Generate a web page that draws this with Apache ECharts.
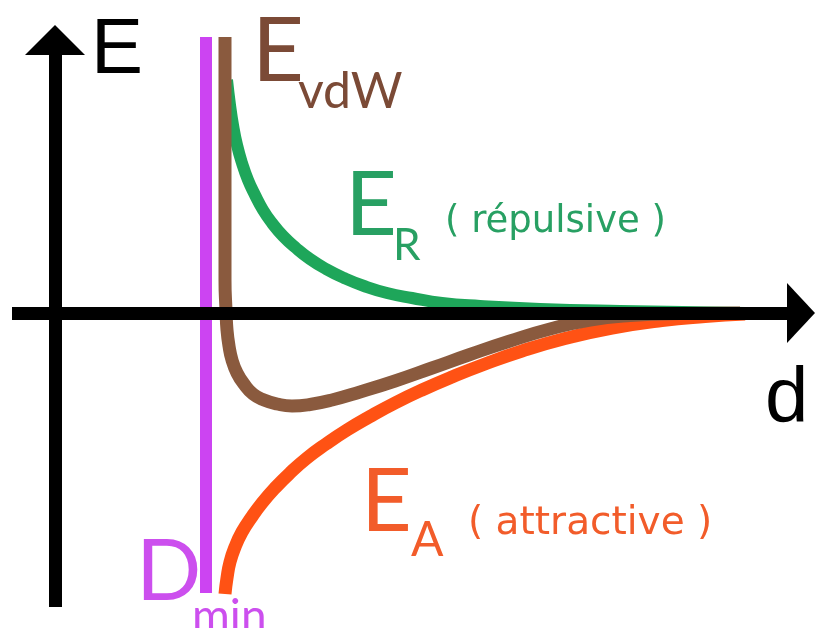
<!DOCTYPE html>
<html>
<head>
<meta charset="utf-8">
<title>E vdW</title>
<script src="https://cdn.jsdelivr.net/npm/echarts@6/dist/echarts.min.js"></script>
<style>
  html, body { margin: 0; padding: 0; background: #fff; }
  #chart { width: 816px; height: 628px; }
</style>
</head>
<body>
<div id="chart"></div>
<script>
// points: [d, E]
var dMin = [[1.51, 2.76], [1.51, -2.80]];

var eRepulsive = [
  [1.72, 2.33], [1.75, 2.08], [1.78, 1.88], [1.82, 1.68], [1.87, 1.50],
  [1.93, 1.33], [2.00, 1.18], [2.08, 1.03], [2.17, 0.90], [2.28, 0.77],
  [2.41, 0.65], [2.55, 0.54], [2.71, 0.44], [2.89, 0.35], [3.09, 0.27],
  [3.32, 0.20], [3.57, 0.15], [3.87, 0.10], [4.25, 0.07], [4.85, 0.04],
  [5.65, 0.02], [6.90, 0]
];

var eAttractive = [
  [1.70, -2.81], [1.72, -2.65], [1.75, -2.49], [1.80, -2.34], [1.87, -2.19],
  [1.96, -2.05], [2.07, -1.90], [2.20, -1.75], [2.35, -1.60], [2.52, -1.45],
  [2.71, -1.31], [2.92, -1.17], [3.15, -1.035], [3.40, -0.90], [3.67, -0.77],
  [3.97, -0.64], [4.30, -0.51], [4.67, -0.38], [5.10, -0.255], [5.57, -0.15],
  [6.07, -0.075], [6.50, -0.035], [6.90, -0.01]
];

var eVdW = [
  [1.70, 2.76], [1.70, 1.13], [1.70, 0.33], [1.71, 0.03], [1.72, -0.17],
  [1.74, -0.33], [1.77, -0.47], [1.82, -0.60], [1.89, -0.71], [1.98, -0.81],
  [2.09, -0.87], [2.22, -0.91], [2.37, -0.93], [2.55, -0.915], [2.77, -0.87],
  [3.05, -0.79], [3.40, -0.68], [3.77, -0.55], [4.15, -0.415], [4.55, -0.28],
  [4.95, -0.16], [5.35, -0.07], [5.75, -0.025], [6.25, -0.005], [6.85, 0]
];

var chart = echarts.init(document.getElementById("chart"));

function axisOpt(min, max, size) {
  return {
    type: "value",
    min: min,
    max: max,
    z: 10,
    axisLine: {
      onZero: true,
      symbol: ["none", "triangle"],
      symbolSize: size,
      lineStyle: { color: "#000", width: 13, cap: "butt" }
    },
    axisTick: { show: false },
    axisLabel: { show: false },
    splitLine: { show: false }
  };
}

function curve(name, data, color, width) {
  return {
    name: name,
    type: "line",
    data: data,
    smooth: 0.5,
    symbol: "none",
    clip: false,
    silent: true,
    lineStyle: { color: color, width: width, cap: "butt", join: "round" }
  };
}

function label(text, x, y, size, color, font) {
  return {
    type: "text",
    x: x,
    y: y,
    style: {
      text: text,
      fill: color,
      fontSize: size,
      fontFamily: font,
      verticalAlign: "middle",
      align: "left"
    }
  };
}

var round = "Lato";
var plain = "Liberation Sans";
var small = "DejaVu Sans";

chart.setOption({
  animation: false,
  backgroundColor: "#fff",
  grid: { left: 12, right: 15, top: 40, bottom: 21 },
  xAxis: axisOpt(-0.43, 7.46, [60, 28]),
  yAxis: axisOpt(-2.94, 2.73, [60, 30]),
  series: [
    {
      name: "Dmin",
      type: "line",
      data: dMin,
      symbol: "none",
      clip: false,
      silent: true,
      lineStyle: { color: "#cc44f2", width: 12, cap: "butt" }
    },
    curve("E_R", eRepulsive, "#1ea65a", 12),
    curve("E_A", eAttractive, "#ff5214", 13),
    curve("E_vdW", eVdW, "#8a5a3e", 13)
  ],
  graphic: [
    label("E", 91, 51, 78, "#000", plain),
    label("d", 765, 400, 78, "#000", plain),
    label("E", 252, 52, 90, "#7b4a36", round),
    label("vdW", 298, 92, 50, "#7b4a36", round),
    label("E", 345, 206, 90, "#28a063", round),
    label("R", 393, 246, 44, "#28a063", round),
    label("( répulsive )", 445, 222, 37, "#28a063", small),
    label("E", 361, 503, 88, "#f25c2a", round),
    label("A", 411, 541, 48, "#f25c2a", round),
    label("( attractive )", 468, 524, 39, "#f25c2a", small),
    label("D", 136, 572, 86, "#cc4fee", round),
    label("min", 192, 617, 46, "#cc4fee", round)
  ]
});
</script>
</body>
</html>
